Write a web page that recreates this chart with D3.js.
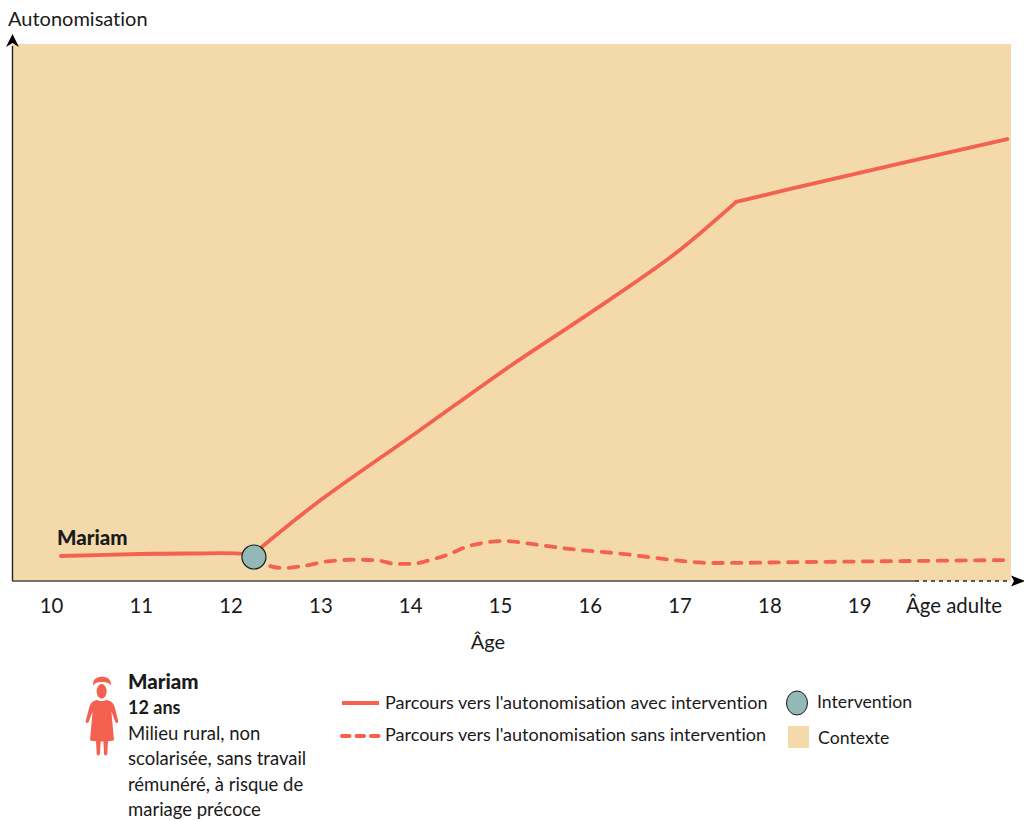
<!DOCTYPE html>
<html><head><meta charset="utf-8">
<script src="https://cdn.jsdelivr.net/npm/d3@7/dist/d3.min.js"></script>
<style>html,body{margin:0;padding:0;background:#fff}svg{display:block}text{font-family:Lato,sans-serif;fill:#1a1a1a;font-variant-ligatures:none;font-feature-settings:"liga" 0,"clig" 0}</style>
</head><body><svg id="c" width="1024" height="821"></svg>
<script>
const ageTicks=[10,11,12,13,14,15,16,17,18,19,20.05];
const ageLabels=["10","11","12","13","14","15","16","17","18","19","Âge adulte"];
const beforeAges=[10.11,10.99,11.55,12.14,12.26];
const beforeVals=[4.66,5.03,5.12,5.03,4.47];
const riseAges=[12.3,12.96,14.08,15.11,15.92,16.93,17.63];
const riseVals=[5.68,14.53,27.75,40,49,60.7,70.6];
const adultAges=[17.63,18.51,20.65];
const adultVals=[70.6,74.1,82.3];
const withoutAges=[12.26,12.38,12.58,12.83,13.05,13.41,13.63,13.85,14.03,14.25,14.44,14.63,14.86,15.03,15.3,15.41,15.89,16.3,16.93,17.19,17.34,18.45,20.68];
const withoutVals=[4.47,3.17,2.42,2.85,3.59,3.97,3.85,3.17,3.22,4.04,5.03,6.39,7.21,7.45,7.02,6.76,5.77,5.16,3.91,3.48,3.35,3.54,3.91];
const interventionAge=12.26, interventionVal=4.47;
const nameLabel="Mariam";
const profile=["Milieu rural, non","scolarisée, sans travail","rémunéré, à risque de","mariage précoce"];

const ORANGE="#f4614f",BG="#f4daab",TEAL="#94b8b5";
const svg=d3.select("#c");
const x=d3.scaleLinear().domain([10,20]).range([51,949]);
const y=d3.scaleLinear().domain([0,100]).range([581,44]);

svg.append("rect").attr("x",12).attr("y",44).attr("width",999).attr("height",537).attr("fill",BG);

// axes
svg.append("line").attr("x1",12.5).attr("x2",12.5).attr("y1",581).attr("y2",46).attr("stroke","#222").attr("stroke-width",1.4);
svg.append("path").attr("d","M12.5,34L19,47L12.5,43L6,47Z").attr("fill","#000");
svg.append("line").attr("x1",12).attr("x2",915).attr("y1",581).attr("y2",581).attr("stroke","#4a4a44").attr("stroke-width",1.6);
svg.append("line").attr("x1",915).attr("x2",1011).attr("y1",581).attr("y2",581).attr("stroke","#222").attr("stroke-width",1.4).attr("stroke-dasharray","4 4");
svg.append("path").attr("d","M1011,575.5L1025,581L1011,586.5L1014,581Z").attr("fill","#000");

const ax=d3.axisBottom(x).tickValues(ageTicks).tickFormat((d,i)=>ageLabels[i]).tickSize(0).tickPadding(0);
const gx=svg.append("g").attr("transform","translate(0,598.5)").call(ax);
gx.select(".domain").remove();
gx.selectAll("text").attr("font-size",20.4).attr("dy","0.71em").style("font-family","Lato,sans-serif");

svg.append("text").attr("x",8).attr("y",26).attr("font-size",20).text("Autonomisation");
svg.append("text").attr("x",488).attr("y",649).attr("text-anchor","middle").attr("font-size",20).text("Âge");

// lines
const smooth=d3.line().x(d=>x(d[0])).y(d=>y(d[1])).curve(d3.curveMonotoneX);
const catmull=d3.line().x(d=>x(d[0])).y(d=>y(d[1])).curve(d3.curveCatmullRom.alpha(0.5));
svg.append("path").attr("d",smooth(d3.zip(withoutAges,withoutVals))).attr("fill","none").attr("stroke",ORANGE).attr("stroke-width",3.8).attr("stroke-dasharray","9.5 9.2").attr("stroke-linecap","round");
[[beforeAges,beforeVals],[riseAges,riseVals],[adultAges,adultVals]].forEach(([a,v])=>{
  svg.append("path").attr("d",catmull(d3.zip(a,v))).attr("fill","none").attr("stroke",ORANGE).attr("stroke-width",3.8).attr("stroke-linecap","round");
});
svg.append("circle").attr("cx",x(interventionAge)).attr("cy",y(interventionVal)).attr("r",12).attr("fill",TEAL).attr("stroke","#1a1a1a").attr("stroke-width",1.2);
svg.append("text").attr("x",57).attr("y",545).attr("font-size",20.5).attr("font-weight",900).attr("fill","#000").text(nameLabel);

// icon
const ic=svg.append("g").attr("fill",ORANGE).attr("transform","translate(80,672) scale(0.3333)");
ic.append("path").attr("d","M40,42C36,20 52,14 66,14C80,14 96,20 92,42C90,36 84,30 66,30C48,30 42,36 40,42Z");
ic.append("ellipse").attr("cx",65).attr("cy",58).attr("rx",15).attr("ry",22);
ic.append("path").attr("d","M52,84C58,88 72,88 78,84C92,86 100,92 104,105L115,148C115,154 108,155 106,150L94,118L102,205C90,210 40,210 30,205L38,118L26,150C24,155 16,154 17,148L28,105C32,92 40,86 52,84Z");
ic.append("path").attr("d","M48,205L62,205L60,245C58,252 52,252 50,245Z");
ic.append("path").attr("d","M70,205L84,205L82,245C80,252 74,252 72,245Z");

// profile
svg.append("text").attr("x",128).attr("y",689).attr("font-size",20.5).attr("font-weight",900).attr("fill","#000").text(nameLabel);
svg.append("text").attr("x",128).attr("y",714).attr("font-size",18).attr("font-weight",700).text("12 ans");
svg.selectAll(".p").data(profile).join("text").attr("class","p").attr("x",128).attr("y",(d,i)=>740+i*25.4).attr("font-size",18.5).text(d=>d);

// legend
svg.append("line").attr("x1",342).attr("x2",379).attr("y1",703).attr("y2",703).attr("stroke",ORANGE).attr("stroke-width",4);
svg.append("line").attr("x1",342).attr("x2",379).attr("y1",736).attr("y2",736).attr("stroke",ORANGE).attr("stroke-width",4).attr("stroke-dasharray","7.5 7").attr("stroke-linecap","round");
svg.append("text").attr("x",385).attr("y",709).attr("font-size",18.05).text("Parcours vers l'autonomisation avec intervention");
svg.append("text").attr("x",385).attr("y",741).attr("font-size",18.05).text("Parcours vers l'autonomisation sans intervention");
svg.append("ellipse").attr("cx",797).attr("cy",703).attr("rx",10.5).attr("ry",12).attr("fill",TEAL).attr("stroke","#1a1a1a").attr("stroke-width",1);
svg.append("text").attr("x",817).attr("y",708).attr("font-size",17.7).text("Intervention");
svg.append("rect").attr("x",788).attr("y",726).attr("width",21).attr("height",22).attr("fill",BG);
svg.append("text").attr("x",818).attr("y",744).attr("font-size",17.7).text("Contexte");
</script></body></html>
